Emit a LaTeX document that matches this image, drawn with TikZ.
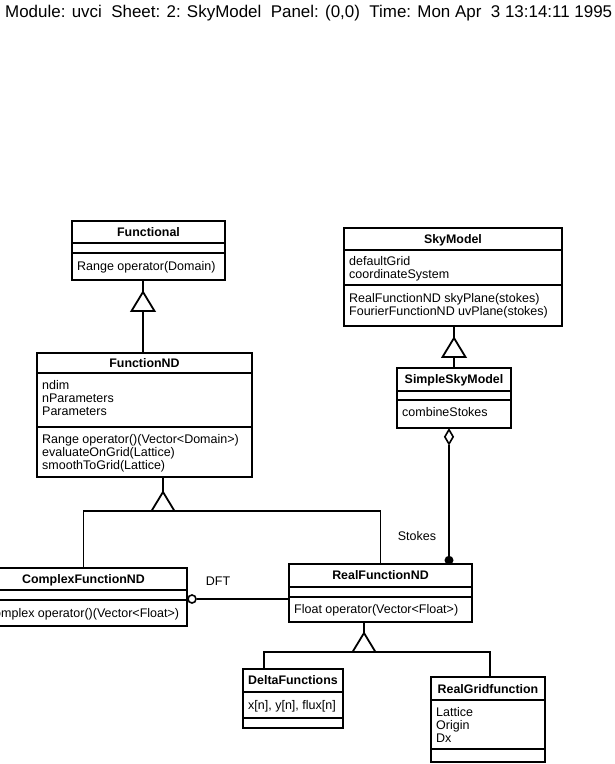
\documentclass[tikz,border=0pt]{standalone}
\usepackage{fontspec}
\usepackage{graphicx}
\setmainfont{Liberation Sans}
\usetikzlibrary{shapes.geometric}
\begin{document}
\begin{tikzpicture}[x=1pt,y=-1pt,
  ln/.style={line width=1.8pt},
  cls/.style={draw, line width=1.8pt, inner sep=0pt, outer sep=0pt, anchor=north west},
  ttl/.style={font=\fontsize{12.4}{14}\selectfont\bfseries, anchor=base, inner sep=0pt},
  mem/.style={font=\fontsize{12.5}{14}\selectfont, anchor=base west, inner sep=0pt},
  lbl/.style={font=\fontsize{12.5}{14}\selectfont, anchor=base, inner sep=0pt},
  tri/.style={draw, line width=1.8pt, fill=white, line join=miter}]
\useasboundingbox (0,0) rectangle (615,764);
\clip (0,0) rectangle (615,764);
\fill[white] (0,0) rectangle (615,764);

% header
\node[anchor=base west, inner sep=0pt] (hdr) at (5,17)
  {\resizebox{607pt}{!}{\fontsize{17}{20}\selectfont Module: uvci~~Sheet: 2: SkyModel~~Panel: (0,0)~~Time: Mon Apr~~3 13:14:11 1995}};

% Functional
\node[cls, minimum width=153pt, minimum height=59pt] (functional) at (72,221) {};
\draw[ln] ([yshift=-22pt]functional.north west) -- ([yshift=-22pt]functional.north east);
\draw[ln] ([yshift=-32pt]functional.north west) -- ([yshift=-32pt]functional.north east);
\node[ttl] (functional-t) at (148.5,236.5) {Functional};
\node[mem] (functional-m1) at (77,270.5) {Range operator(Domain)};

% FunctionND
\node[cls, minimum width=215pt, minimum height=124pt] (functionnd) at (37,353) {};
\draw[ln] ([yshift=-20pt]functionnd.north west) -- ([yshift=-20pt]functionnd.north east);
\draw[ln] ([yshift=-74pt]functionnd.north west) -- ([yshift=-74pt]functionnd.north east);
\node[ttl] (functionnd-t) at (144.5,367.5) {FunctionND};
\node[mem] (functionnd-a1) at (42,389.5) {ndim};
\node[mem] (functionnd-a2) at (42,402.5) {nParameters};
\node[mem] (functionnd-a3) at (42,415.5) {Parameters};
\node[mem] (functionnd-m1) at (42,443.5) {Range operator()(Vector<Domain>)};
\node[mem] (functionnd-m2) at (42,456.5) {evaluateOnGrid(Lattice)};
\node[mem] (functionnd-m3) at (42,469.5) {smoothToGrid(Lattice)};

% SkyModel
\node[cls, minimum width=218pt, minimum height=98pt] (skymodel) at (344,228) {};
\draw[ln] ([yshift=-22pt]skymodel.north west) -- ([yshift=-22pt]skymodel.north east);
\draw[ln] ([yshift=-57pt]skymodel.north west) -- ([yshift=-57pt]skymodel.north east);
\node[ttl] (skymodel-t) at (453,243.5) {SkyModel};
\node[mem] (skymodel-a1) at (349,265.5) {defaultGrid};
\node[mem] (skymodel-a2) at (349,278.5) {coordinateSystem};
\node[mem] (skymodel-m1) at (349,302.5) {RealFunctionND skyPlane(stokes)};
\node[mem] (skymodel-m2) at (349,315.5) {FourierFunctionND uvPlane(stokes)};

% SimpleSkyModel
\node[cls, minimum width=114pt, minimum height=60pt] (simplesky) at (397,368) {};
\draw[ln] ([yshift=-23pt]simplesky.north west) -- ([yshift=-23pt]simplesky.north east);
\draw[ln] ([yshift=-32pt]simplesky.north west) -- ([yshift=-32pt]simplesky.north east);
\node[ttl] (simplesky-t) at (454,383.5) {SimpleSkyModel};
\node[mem] (simplesky-m1) at (402,416.5) {combineStokes};

% ComplexFunctionND
\node[cls, minimum width=207pt, minimum height=58pt] (complexfn) at (-20,568) {};
\draw[ln] ([yshift=-22pt]complexfn.north west) -- ([yshift=-22pt]complexfn.north east);
\draw[ln] ([yshift=-32pt]complexfn.north west) -- ([yshift=-32pt]complexfn.north east);
\node[ttl] (complexfn-t) at (83.5,583.5) {ComplexFunctionND};
\node[mem] (complexfn-m1) at (-15,617.5) {Complex operator()(Vector<Float>)};

% RealFunctionND
\node[cls, minimum width=183pt, minimum height=58pt] (realfn) at (289,564) {};
\draw[ln] ([yshift=-23pt]realfn.north west) -- ([yshift=-23pt]realfn.north east);
\draw[ln] ([yshift=-33pt]realfn.north west) -- ([yshift=-33pt]realfn.north east);
\node[ttl] (realfn-t) at (380.5,579.5) {RealFunctionND};
\node[mem] (realfn-m1) at (294,613.5) {Float operator(Vector<Float>)};

% DeltaFunctions
\node[cls, minimum width=100pt, minimum height=59pt] (delta) at (243,669) {};
\draw[ln] ([yshift=-23pt]delta.north west) -- ([yshift=-23pt]delta.north east);
\draw[ln] ([yshift=-49pt]delta.north west) -- ([yshift=-49pt]delta.north east);
\node[ttl] (delta-t) at (293,684.5) {DeltaFunctions};
\node[mem] (delta-a1) at (248,709.5) {x[n], y[n], flux[n]};

% RealGridfunction
\node[cls, minimum width=114pt, minimum height=85pt] (realgrid) at (431,677) {};
\draw[ln] ([yshift=-23pt]realgrid.north west) -- ([yshift=-23pt]realgrid.north east);
\draw[ln] ([yshift=-72pt]realgrid.north west) -- ([yshift=-72pt]realgrid.north east);
\node[ttl] (realgrid-t) at (488,693.5) {RealGridfunction};
\node[mem] (realgrid-a1) at (436,716.5) {Lattice};
\node[mem] (realgrid-a2) at (436,729.5) {Origin};
\node[mem] (realgrid-a3) at (436,742.5) {Dx};

% Inheritance: Functional <- FunctionND
\coordinate (tip1) at (143,292);
\coordinate (base1) at (143,311);
\draw[ln] (functional.south -| tip1) -- (tip1);
\draw[ln] (base1) -- (functionnd.north -| base1);
\draw[tri] (tip1) -- ++(11.5,19) -- ++(-23,0) -- cycle;

% Inheritance: FunctionND <- ComplexFunctionND, RealFunctionND
\coordinate (tip2) at (163,492);
\coordinate (base2) at (163,511);
\draw[ln] (functionnd.south -| tip2) -- (tip2);
\draw[ln] (complexfn.north) |- (base2) -| (realfn.north);
\draw[tri] (tip2) -- ++(11.5,19) -- ++(-23,0) -- cycle;

% Inheritance: SkyModel <- SimpleSkyModel
\coordinate (tip3) at (454,338);
\coordinate (base3) at (454,357);
\draw[ln] (skymodel.south -| tip3) -- (tip3);
\draw[ln] (base3) -- (simplesky.north -| base3);
\draw[tri] (tip3) -- ++(11.5,19) -- ++(-23,0) -- cycle;

% Inheritance: RealFunctionND <- DeltaFunctions, RealGridfunction
\coordinate (tip4) at (364,633);
\coordinate (base4) at (364,652);
\coordinate (dj) at (264,652);
\coordinate (gj) at (490,652);
\draw[ln] (realfn.south -| tip4) -- (tip4);
\draw[ln] (delta.north -| dj) -- (dj) -- (gj) -- (realgrid.north -| gj);
\draw[tri] (tip4) -- ++(11.5,19) -- ++(-23,0) -- cycle;

% Aggregation: SimpleSkyModel <>-- RealFunctionND (Stokes)
\node[draw, diamond, line width=1.6pt, fill=white, inner sep=0pt, minimum width=9pt, minimum height=15pt, anchor=north] (agg) at (449,428.5) {};
\node[circle, fill=black, inner sep=0pt, minimum size=9pt, anchor=south] (dot) at (449,565) {};
\draw[ln] (agg.south) -- (dot.north);
\node[lbl] (stokes) at (417,540.5) {Stokes};

% Association: ComplexFunctionND o-- RealFunctionND (DFT)
\node[draw, circle, line width=1.6pt, fill=white, inner sep=0pt, minimum size=8pt] (dftc) at (192,599) {};
\draw[ln] (dftc.east) -- (realfn.west |- dftc);
\node[lbl] (dft) at (218,585) {DFT};
\end{tikzpicture}
\end{document}
